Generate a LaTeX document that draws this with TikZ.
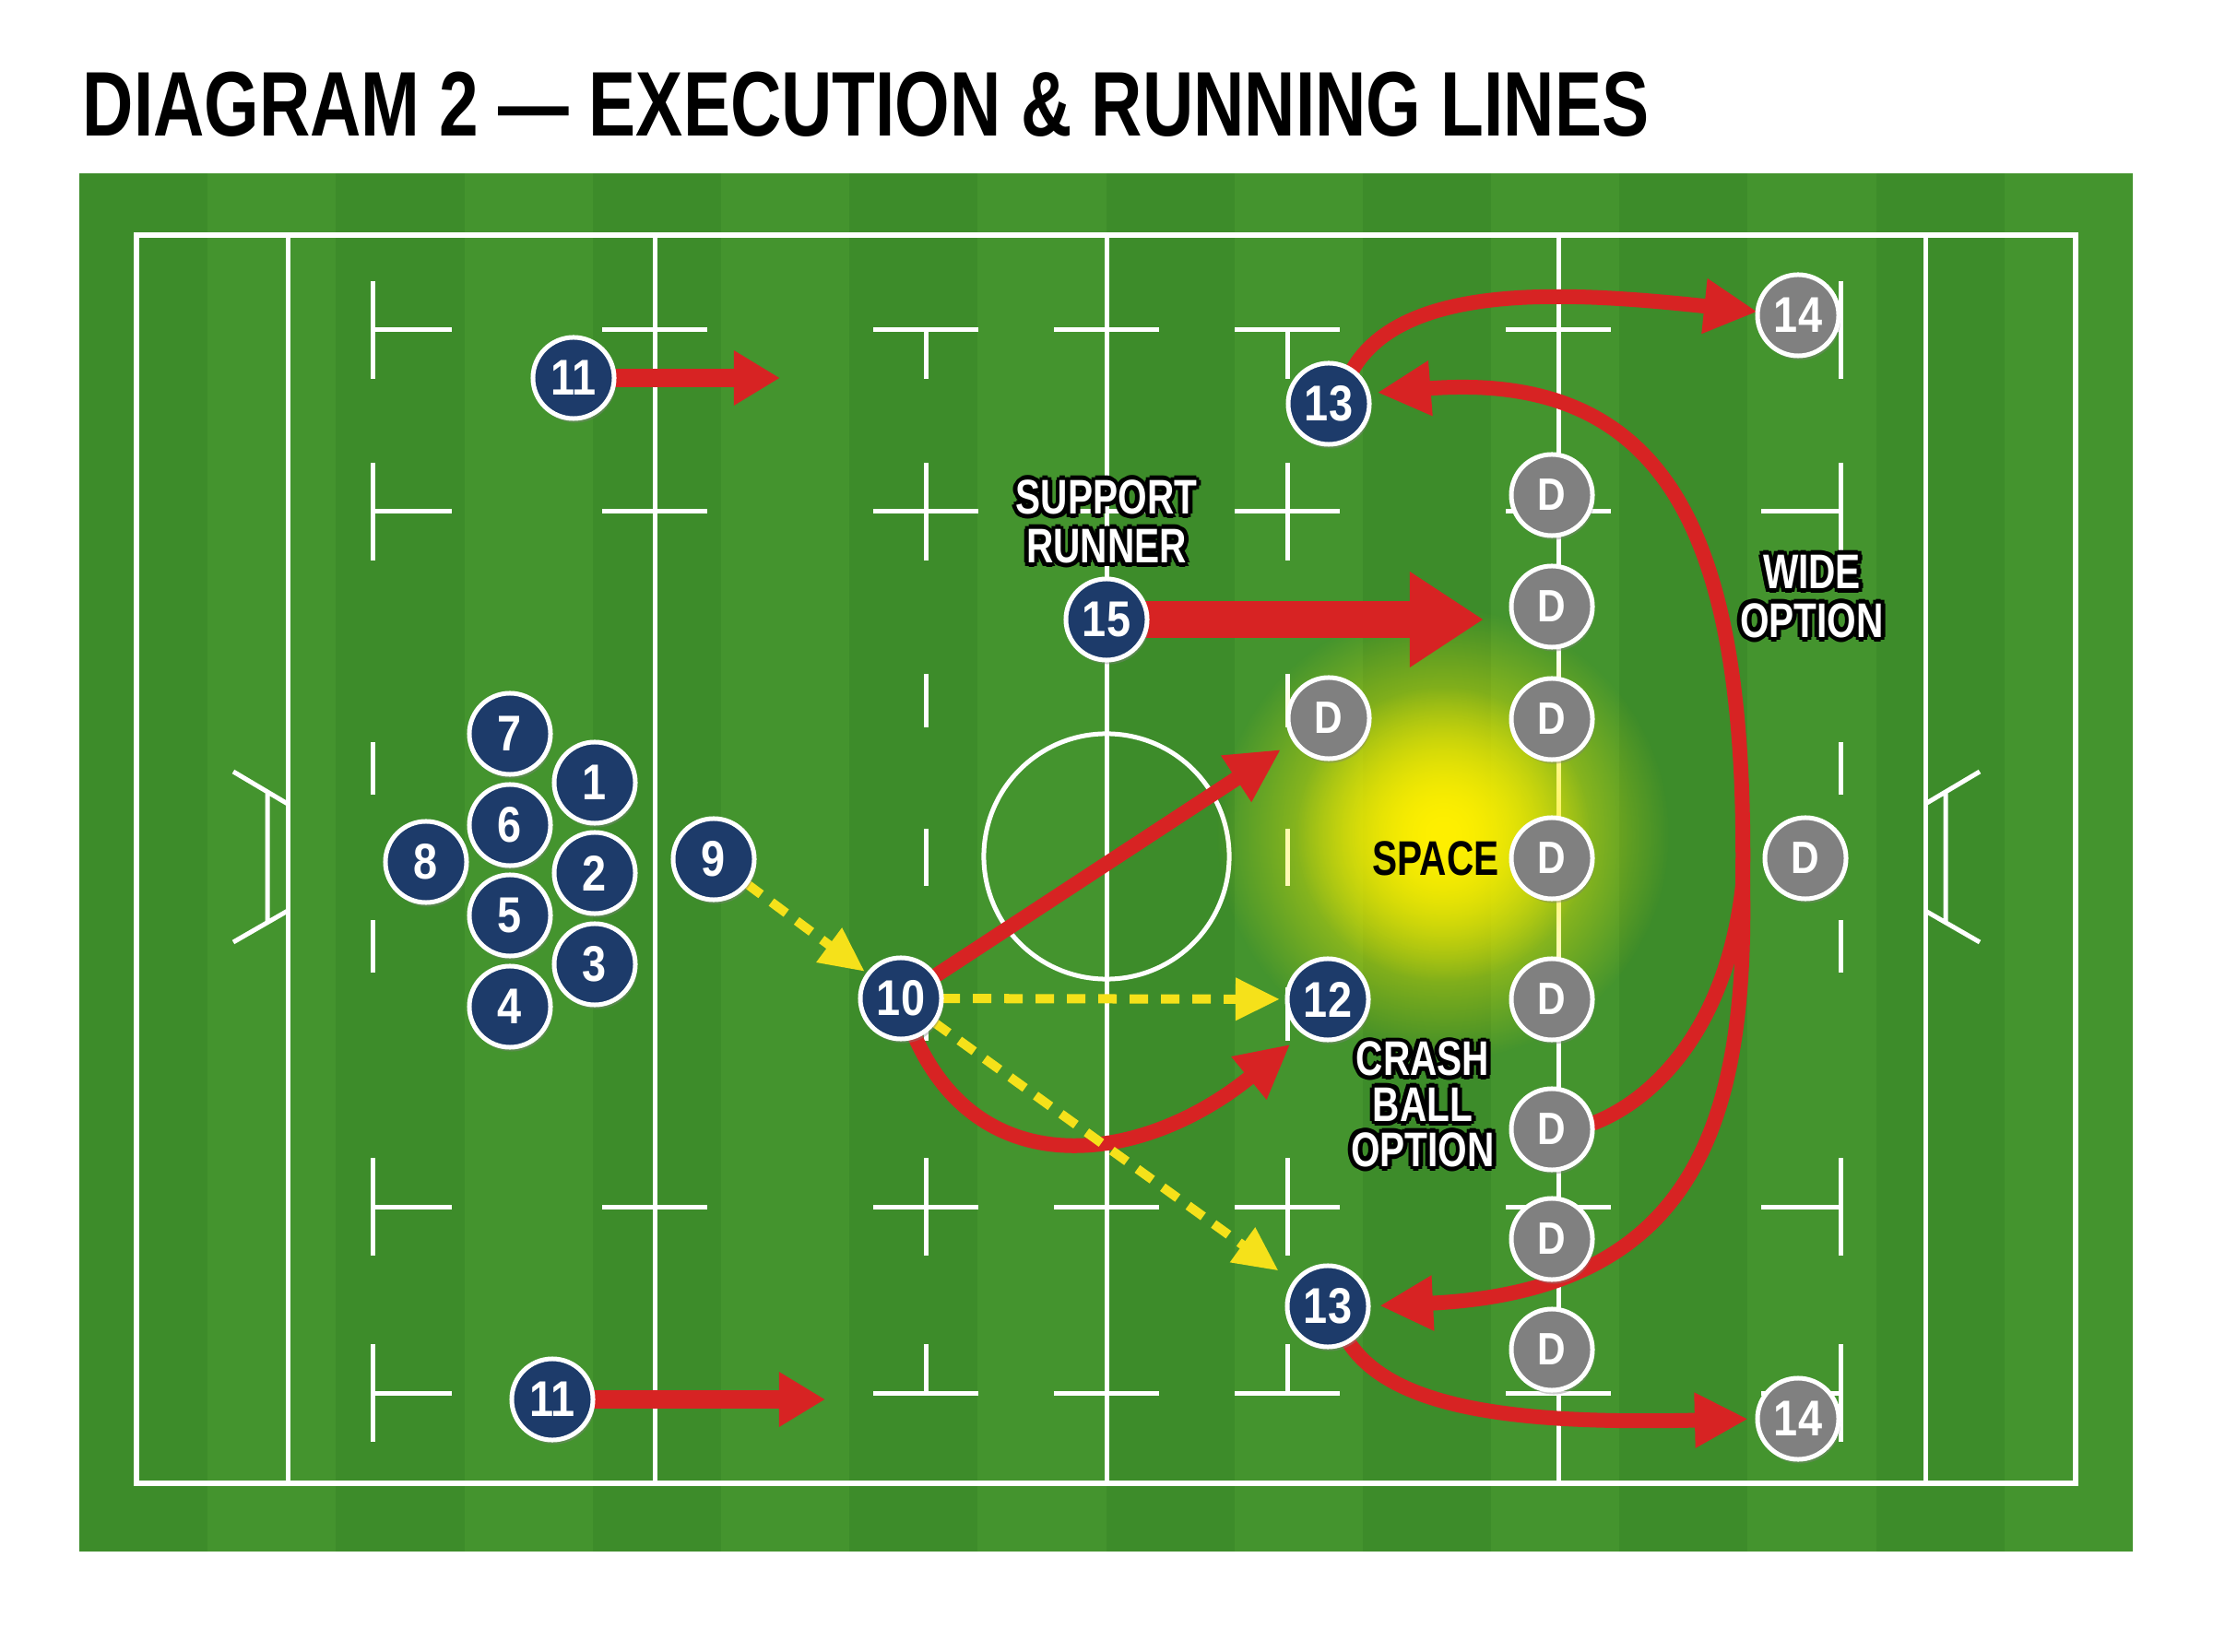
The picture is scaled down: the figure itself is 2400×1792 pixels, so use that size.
\documentclass[tikz,border=0pt]{standalone}
\usepackage{fontspec}
\setmainfont{Liberation Sans}
\newfontfamily\condf{Liberation Sans}[FakeStretch=0.77]
\newfontfamily\numf{Liberation Sans}[FakeStretch=0.86]
\usetikzlibrary{arrows.meta,shadows,fadings}
\definecolor{navy}{HTML}{1D3B6A}
\definecolor{dgray}{HTML}{808080}
\definecolor{redc}{HTML}{D72323}
\definecolor{yel}{HTML}{F5E11A}
\definecolor{grassA}{HTML}{3D8C2A}
\definecolor{grassB}{HTML}{44942E}
\definecolor{glowc}{HTML}{FFF000}
\tikzfading[name=glowfade, inner color=transparent!0, outer color=transparent!100]
\pgfdeclarelayer{field}
\pgfdeclarelayer{arrows}
\pgfsetlayers{field,arrows,main}
\newcommand\glowt[1]{\setbox0=\hbox{#1}\leavevmode
\rlap{\color{black}\kern-1.4pt\copy0}%
\rlap{\color{black}\kern1.4pt\copy0}%
\rlap{\color{black}\raise1.4pt\copy0}%
\rlap{\color{black}\lower1.4pt\copy0}%
\rlap{\color{black}\kern-1pt\raise1pt\copy0}%
\rlap{\color{black}\kern1pt\raise1pt\copy0}%
\rlap{\color{black}\kern-1pt\lower1pt\copy0}%
\rlap{\color{black}\kern1pt\lower1pt\copy0}%
\copy0}
\begin{document}
\begin{tikzpicture}[x=0.01cm, y=-0.01cm,
  fline/.style={white, line width=0.05cm},
  player/.style={circle, minimum size=0.88cm, inner sep=0pt, outer sep=0pt,
    fill=navy, draw=white, line width=0.05cm, text=white,
    font=\fontsize{15.5}{15.5}\numf\bfseries,
    drop shadow={shadow xshift=0.02cm, shadow yshift=-0.045cm, opacity=0.4}},
  defender/.style={player, fill=dgray},
  dfont/.style={font=\fontsize{14}{14}\numf\bfseries},
  redln/.style={draw=redc, line width=0.16cm, -{Triangle[length=0.58cm, width=0.56cm]}},
  blockar/.style={draw=redc, line width=0.2cm, -{Triangle[length=0.5cm, width=0.56cm]}},
  yelln/.style={draw=yel, line width=0.1cm, dash pattern=on 0.2cm off 0.14cm,
    -{Triangle[length=0.48cm, width=0.44cm]}},
  lbl/.style={text=white, font=\fontsize{15}{15}\condf\bfseries, align=center, inner sep=0pt}]
\useasboundingbox (0,0) rectangle (2400,1792);

\begin{pgfonlayer}{field}
\fill[white] (0,0) rectangle (2400,1792);
\fill[grassA] (86,188) rectangle (2313,1683);
\foreach \i in {1,3,...,15} \fill[grassB] ({86+139.19*\i},188) rectangle ({86+139.19*(\i+1)},1683);
\draw[fline, line width=0.06cm] (148,255) rectangle (2251,1609);
\foreach \x in {312,710,1200,1690,2088} \draw[fline] (\x,255) -- (\x,1609);
\foreach \x in {710,1200,1690} \foreach \y in {358,555,1309,1511} \draw[fline] ({\x-57},\y) -- ({\x+57},\y);
\foreach \x in {1004,1396}{
  \foreach \a/\b in {731/789, 899/961, 1071/1129, 502/608, 1256/1362, 358/411, 1458/1511} \draw[fline] (\x,\a) -- (\x,\b);
  \foreach \y in {358,555,1309,1511} \draw[fline] ({\x-57},\y) -- ({\x+57},\y);
}
\foreach \x/\d in {404/1,1996/-1}{
  \foreach \a/\b in {305/411, 502/608, 805/862, 998/1055, 1256/1362, 1458/1564} \draw[fline] (\x,\a) -- (\x,\b);
  \foreach \y in {358,555,1309,1511} \draw[fline] (\x,\y) -- ({\x+86*\d},\y);
}
\draw[fline] (1200,929) circle[radius=1.33cm];
\draw[fline] (312,872) -- (253,837) (312,988) -- (253,1022) (290,860) -- (290,1000);
\draw[fline] (2088,872) -- (2147,837) (2088,988) -- (2147,1022) (2110,860) -- (2110,1000);
\end{pgfonlayer}

\node[anchor=base west, inner sep=0pt, font=\fontsize{28.3}{30}\condf\bfseries] (title) at (89,148) {DIAGRAM 2 — EXECUTION \& RUNNING LINES};

% attackers
\node[player] (n11t) at (622,410) {11};
\node[player] (n11b) at (599,1518) {11};
\node[player] (n7) at (553,796) {7};
\node[player] (n1) at (645,849) {1};
\node[player] (n6) at (553,895) {6};
\node[player] (n8) at (462,935) {8};
\node[player] (n2) at (645,947) {2};
\node[player] (n5) at (553,993) {5};
\node[player] (n3) at (645,1046) {3};
\node[player] (n4) at (553,1092) {4};
\node[player] (n9) at (774,932) {9};
\node[player] (n10) at (977,1083) {10};
\node[player] (n12) at (1440,1084) {12};
\node[player] (n13t) at (1441,438) {13};
\node[player] (n13b) at (1440,1417) {13};
\node[player] (n15) at (1200,672) {15};
\node[defender] (n14t) at (1950,342) {14};
\node[defender] (n14b) at (1950,1539) {14};
% defenders
\foreach \y [count=\k] in {537,658,780,931,1084,1225,1344,1464}
  \node[defender, dfont] (dB\k) at (1683,\y) {D};
\node[defender, dfont] (dA) at (1441,779) {D};
\node[defender, dfont] (dR) at (1958,931) {D};

% labels
\node[lbl] (lsup) at (1200,566) {\glowt{SUPPORT}\\\glowt{RUNNER}};
\node[lbl] (lwide) at (1965,647) {\glowt{WIDE}\\\glowt{OPTION}};
\node[lbl, text=black] (lspace) at (1557,931) {SPACE};
\node[lbl, font=\fontsize{15}{14}\condf\bfseries] (lcrash) at (1543,1198) {\glowt{CRASH}\\\glowt{BALL}\\\glowt{OPTION}};

\coordinate (a11t) at (846,410);
\coordinate (a11b) at (895,1518);
\coordinate (a15) at (1609,672);
\coordinate (jn) at (1890,960);

\begin{pgfonlayer}{arrows}
\fill[glowc, path fading=glowfade] (1565,905) circle[radius=2.45cm];
\fill[glowc, path fading=glowfade] (1565,905) circle[radius=1.6cm];
\draw[blockar] (n11t.center) -- (a11t);
\draw[blockar] (n11b.center) -- (a11b);
\draw[draw=redc, line width=0.4cm, -{Triangle[length=0.8cm, width=0.98cm]}] (n15.center) -- (a15);
\draw[redln, shorten >=0.18cm] (n10) -- (dA);
\draw[redln, shorten >=0.2cm] (n10.-70) .. controls (1066,1290) and (1244,1260) .. (n12.-125);
\draw[redln] (n13t.55) .. controls (1522,304) and (1706,317) .. (n14t.175);
\draw[redln, shorten >=0.1cm] (n13b.-60) .. controls (1510,1530) and (1650,1545) .. (n14b.west);
\draw[redln, shorten >=0.1cm] (dB6.8) .. controls (1790,1195) and (1872,1120) .. (jn)
   .. controls (1895,600) and (1820,400) .. (n13t.15);
\draw[redln, shorten >=0.12cm] (jn) .. controls (1895,1230) and (1830,1400) .. (n13b.east);
\draw[yelln, shorten >=0.05cm] (n9) -- (n10);
\draw[yelln, shorten >=0.08cm] (n10) -- (n12);
\draw[yelln, shorten >=0.22cm] (n10) -- (n13b);
\end{pgfonlayer}
\end{tikzpicture}
\end{document}
